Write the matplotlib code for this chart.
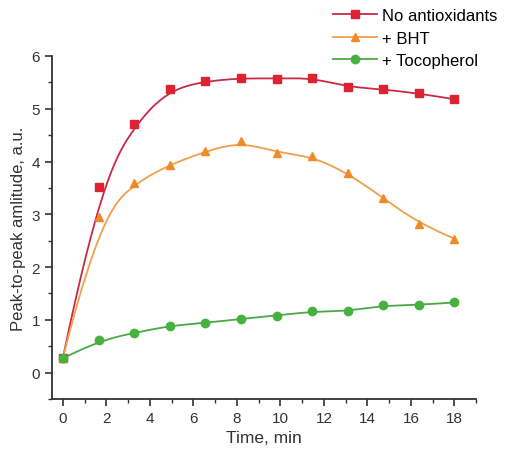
import numpy as np
import matplotlib

matplotlib.use("Agg")

import matplotlib.pyplot as plt
from matplotlib.ticker import MultipleLocator

time_min = [0, 1.64, 3.27, 4.91, 6.55, 8.18, 9.82, 11.45, 13.09, 14.73, 16.36, 18.0]
no_antiox = [0.28, 3.52, 4.72, 5.37, 5.52, 5.58, 5.57, 5.59, 5.41, 5.37, 5.29, 5.18]
bht = [0.28, 2.95, 3.59, 3.94, 4.19, 4.38, 4.17, 4.10, 3.78, 3.31, 2.82, 2.54]
tocopherol = [0.27, 0.61, 0.75, 0.89, 0.94, 1.02, 1.08, 1.16, 1.16, 1.28, 1.28, 1.33]

labels = ["No antioxidants", "+ BHT", "+ Tocopherol"]
marker_colors = ["#dc2332", "#f08a26", "#46b23e"]
line_colors = ["#c92a48", "#f0a04a", "#4aa846"]
markers = ["s", "^", "o"]


def bspline(xs, ys, n=300, k=3):
    # clamped B-spline with the points as control points (like Origin's B-spline)
    pts = np.column_stack([xs, ys])
    m = len(pts)
    knots = np.concatenate([np.zeros(k), np.linspace(0, 1, m - k + 1), np.ones(k)])
    t = np.linspace(0, 1, n)
    t[-1] -= 1e-9

    def basis(i, p, u):
        if p == 0:
            return ((knots[i] <= u) & (u < knots[i + 1])).astype(float)
        left = 0.0
        right = 0.0
        d1 = knots[i + p] - knots[i]
        d2 = knots[i + p + 1] - knots[i + 1]
        if d1 > 0:
            left = (u - knots[i]) / d1 * basis(i, p - 1, u)
        if d2 > 0:
            right = (knots[i + p + 1] - u) / d2 * basis(i + 1, p - 1, u)
        return left + right

    curve = sum(basis(i, k, t)[:, None] * pts[i] for i in range(m))
    return curve[:, 0], curve[:, 1]


plt.rcParams["font.family"] = ["Liberation Sans", "DejaVu Sans"]
fig = plt.figure(figsize=(5.05, 4.52), dpi=100)
ax = fig.add_axes([0.103, 0.115, 0.84, 0.759])

handles = []
series = [no_antiox, bht, tocopherol]
for ys, lab, mc, lc, mk in zip(series, labels, marker_colors, line_colors, markers):
    cx, cy = bspline(time_min, ys)
    ax.plot(cx, cy, color=lc, lw=1.3)
    ax.plot(time_min, ys, linestyle="none", marker=mk, color=mc, ms=6)
    h, = ax.plot([], [], color=lc, lw=1.3, marker=mk, mfc=mc, mec=mc, ms=6, label=lab)
    handles.append(h)

ax.set_xlim(-0.5, 19)
ax.set_ylim(-0.5, 6)
ax.xaxis.set_major_locator(MultipleLocator(2))
ax.xaxis.set_minor_locator(MultipleLocator(1))
ax.yaxis.set_major_locator(MultipleLocator(1))
ax.yaxis.set_minor_locator(MultipleLocator(0.5))
ax.spines["top"].set_visible(False)
ax.spines["right"].set_visible(False)
for s in ["left", "bottom"]:
    ax.spines[s].set_color("#333333")
    ax.spines[s].set_linewidth(1.3)
ax.tick_params(which="major", length=5, width=1.2, color="#333333",
               labelsize=11, labelcolor="#333333")
ax.tick_params(which="minor", length=3, width=1.0, color="#333333")

ax.set_xlabel("Time, min", fontsize=12.5, color="#333333")
ax.set_ylabel("Peak-to-peak amlitude, a.u.", fontsize=12, color="#333333")

fig.legend(handles=handles, loc="upper left", bbox_to_anchor=(0.66, 0.98),
           frameon=False, fontsize=12, handlelength=2.6, handletextpad=0.35,
           labelspacing=0.45, borderaxespad=0, borderpad=0)

fig.savefig("out.png", dpi=100)
